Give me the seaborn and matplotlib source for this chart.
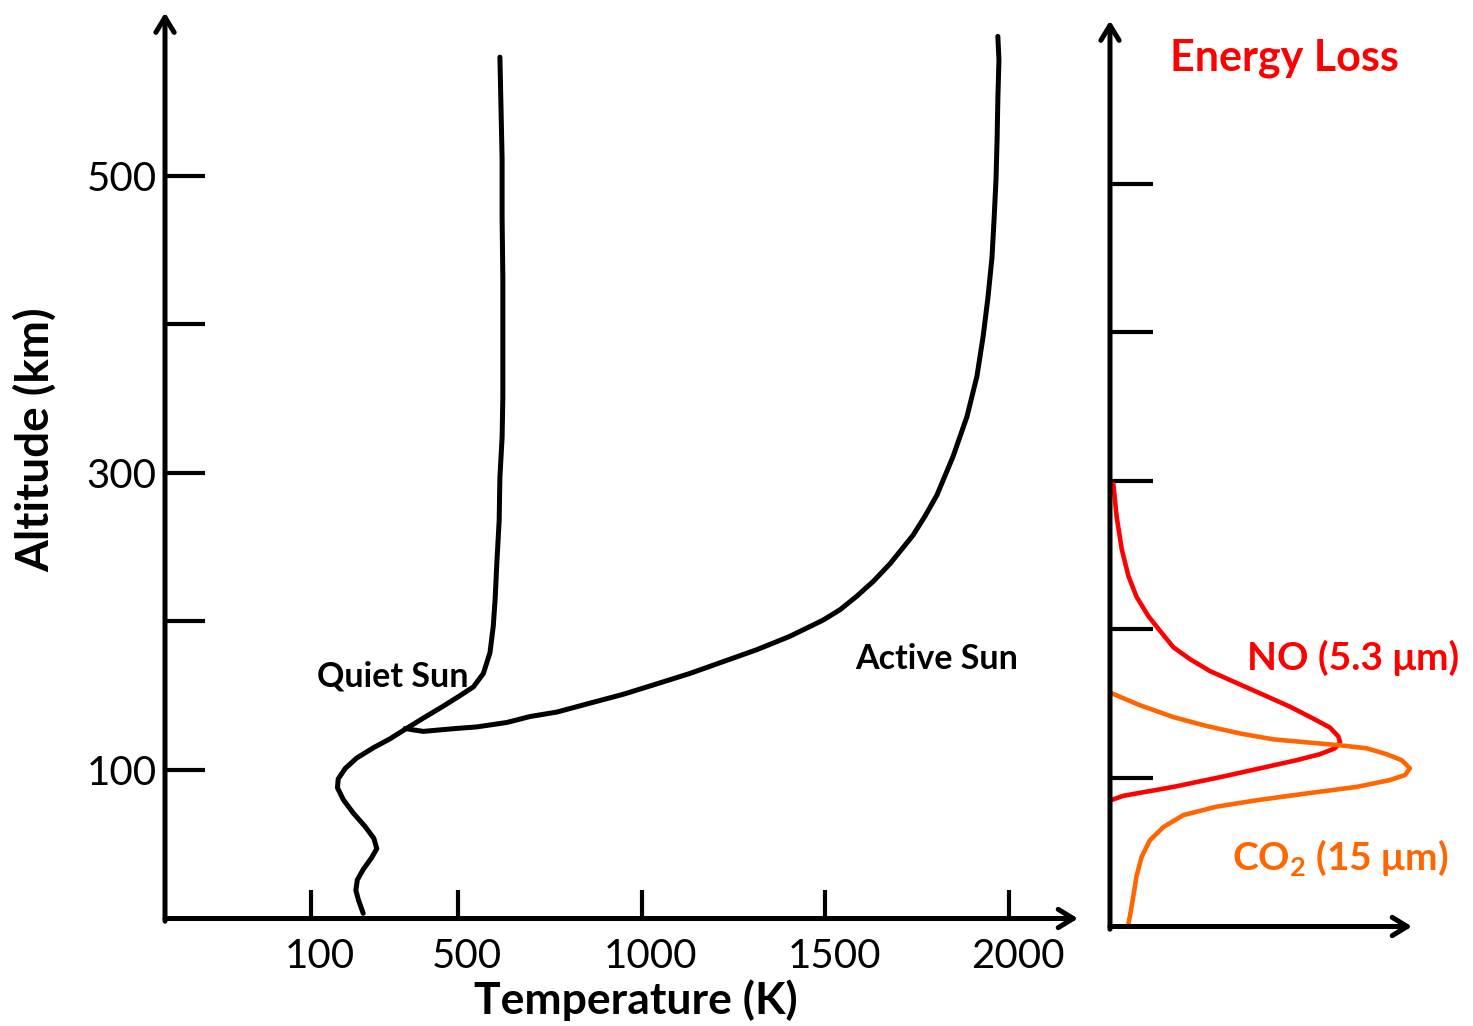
import numpy as np
import pandas as pd
import seaborn as sns
import matplotlib.pyplot as plt
from matplotlib.transforms import ScaledTranslation

# temperature profiles (K) vs altitude (km)
quiet_temp = [242, 229, 222, 226, 242, 265, 279, 271, 247, 215, 188, 172, 174,
              193, 224, 270, 315, 360, 406, 460, 505, 542, 569, 587, 596, 601,
              606, 612, 614, 620, 622, 622, 622, 620, 620, 617, 614]
quiet_alt = [3.5, 12.5, 19, 26, 33, 41, 47, 54, 62, 71, 80, 88, 94,
             101, 108, 115, 121, 128, 135, 143, 150, 156, 165, 179, 197, 215,
             241, 268, 297, 324, 351, 391, 431, 472, 511, 546, 580]

active_temp = [356, 378, 406, 451, 497, 551, 633, 696, 769, 859, 950, 1041,
               1131, 1222, 1313, 1403, 1494, 1540, 1585, 1630, 1676, 1738,
               1771, 1803, 1847, 1885, 1912, 1929, 1942, 1953, 1959, 1964,
               1967, 1969, 1972, 1969]
active_alt = [128, 127, 126, 127, 128, 129, 132, 136, 139, 145, 151, 158,
              165, 173, 181, 190, 201, 208, 217, 227, 239, 258,
              271, 285, 311, 338, 365, 392, 418, 445, 472, 498,
              525, 552, 578, 594]

# energy loss profiles (arbitrary units) vs altitude (km)
no_loss = [0.011, 0.022, 0.039, 0.061, 0.088, 0.127, 0.166, 0.21, 0.265, 0.331,
           0.408, 0.508, 0.596, 0.673, 0.728, 0.756, 0.762, 0.745, 0.695, 0.618,
           0.508, 0.375, 0.21, 0.044, -0.011]
no_alt = [298, 276, 254, 236, 222, 209, 199, 188, 180, 172,
          165, 156, 148, 140, 134, 128, 124, 120, 116, 112,
          107, 101, 94, 88, 84]

co2_loss = [0.006, 0.099, 0.21, 0.32, 0.43, 0.541, 0.651, 0.762, 0.85, 0.916,
            0.966, 0.993, 0.977, 0.927, 0.817, 0.651, 0.486, 0.353, 0.243,
            0.177, 0.132, 0.105, 0.088, 0.077, 0.066, 0.061]
co2_alt = [157, 149, 141, 135, 130, 126, 124, 122, 120, 116,
           112, 106.5, 102, 98.6, 94, 89.6, 85, 80.7, 75,
           67, 58, 47, 34, 20, 7, 2]

alt_ticks = [100, 200, 300, 400, 500]
alt_labels = ['100', '', '300', '', '500']
temp_ticks = [100, 500, 1000, 1500, 2000]

sns.set_theme(style='white')
plt.rcParams['font.family'] = ['Lato', 'DejaVu Sans']
plt.rcParams['mathtext.fontset'] = 'custom'
plt.rcParams['mathtext.rm'] = 'Lato'
plt.rcParams['mathtext.bf'] = 'Lato:bold'

fig = plt.figure(figsize=(14.73, 10.26), dpi=100)
ax = fig.add_axes([0.11202, 0.10478, 0.61982, 0.88294])
ax2 = fig.add_axes([0.75356, 0.09698, 0.20502, 0.88294])

LW = 3.6
line_kw = dict(sort=False, estimator=None, ax=ax, color='black', lw=LW,
               solid_capstyle='round', solid_joinstyle='round', legend=False)
sns.lineplot(x=quiet_temp, y=quiet_alt, **line_kw)
sns.lineplot(x=active_temp, y=active_alt, **line_kw)

sns.lineplot(x=no_loss, y=no_alt, sort=False, estimator=None, ax=ax2,
             color='#FF0000', lw=3.3, solid_capstyle='round',
             solid_joinstyle='round', legend=False)
sns.lineplot(x=co2_loss, y=co2_alt, sort=False, estimator=None, ax=ax2,
             color='#FF6600', lw=3.3, solid_capstyle='round',
             solid_joinstyle='round', legend=False)

ax.set_xlim(-297.3, 2187.1)
ax.set_ylim(0, 610)
ax2.set_xlim(0, 1)
ax2.set_ylim(0, 610)

arrow = dict(arrowstyle='->,head_length=0.9,head_width=0.55', lw=LW,
             color='black', shrinkA=0, shrinkB=0)
for a in (ax, ax2):
    for s in a.spines.values():
        s.set_visible(False)
    a.grid(False)
    a.set_xlabel('')
    a.set_ylabel('')
    a.annotate('', xy=(1, 0), xytext=(0, 0), xycoords='axes fraction',
               arrowprops=arrow, annotation_clip=False)
    a.annotate('', xy=(0, 1), xytext=(0, -0.003), xycoords='axes fraction',
               arrowprops=arrow, annotation_clip=False)

ax.set_yticks(alt_ticks, alt_labels)
ax.tick_params(axis='y', which='major', left=True, direction='in', length=29,
               width=3, color='black', labelsize=29, pad=6,
               labelcolor='black')
ax.set_xticks(temp_ticks, [str(t) for t in temp_ticks])
ax.tick_params(axis='x', which='major', bottom=True, direction='in',
               length=20, width=3, color='black', labelsize=29, pad=14,
               labelcolor='black')
shift = ScaledTranslation(9 / 100, 0, fig.dpi_scale_trans)
for lbl in ax.get_xticklabels():
    lbl.set_transform(lbl.get_transform() + shift)

ax2.set_yticks(alt_ticks, [''] * len(alt_ticks))
ax2.set_xticks([])
ax2.tick_params(axis='y', which='major', left=True, direction='in',
                length=31, width=3, color='black')

ax.text(323, 163, 'Quiet Sun', fontsize=24.5, fontweight='bold',
        ha='center', va='center', color='black')
ax.text(1803, 175, 'Active Sun', fontsize=24.5, fontweight='bold',
        ha='center', va='center', color='black')

ax2.text(0.579, 585, 'Energy Loss', fontsize=31, fontweight='bold',
         ha='center', va='center', color='#FF0000')
ax2.text(0.805, 181, 'NO (5.3 μm)', fontsize=28, fontweight='bold',
         ha='center', va='center', color='#FF0000')
ax2.text(0.762, 46, r'CO$_\mathbf{2}$ (15 μm)', fontsize=28, fontweight='bold',
         ha='center', va='center', color='#FF6600')

fig.text(0.0238, 0.5712, 'Altitude (km)', rotation=90, fontsize=33,
         fontweight='bold', ha='center', va='center', color='black')
fig.text(0.4318, 0.0253, 'Temperature (K)', fontsize=32,
         fontweight='bold', ha='center', va='center', color='black')

fig.savefig('out.png', dpi=100)
